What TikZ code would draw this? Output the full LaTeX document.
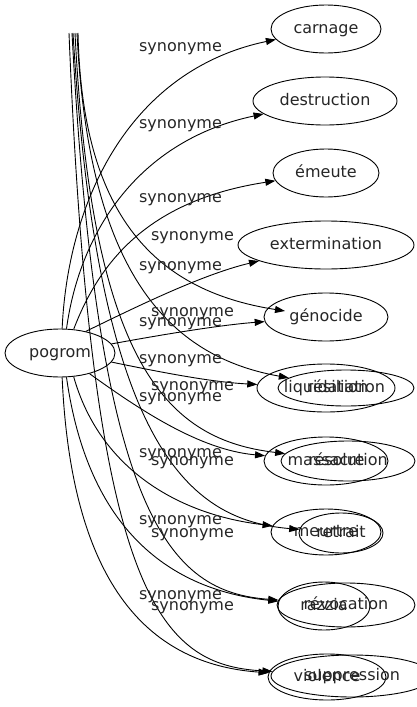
\documentclass[tikz,border=0pt]{standalone}
\usepackage{fontspec}
\setmainfont{DejaVu Sans}
\usetikzlibrary{shapes.geometric,arrows.meta}
\begin{document}
\begin{tikzpicture}[x=1pt,y=-1pt,
  txt/.style={font=\fontsize{16}{18}\selectfont, text=black!85, text height=11.5pt, text depth=3.5pt},
  nd/.style={txt, draw, ellipse, inner sep=0pt, line width=0.9pt},
  lbl/.style={txt, inner sep=0pt},
  syn/.style={draw, line width=0.9pt, -{Triangle[length=10pt,width=7pt]}}]
\useasboundingbox (0,0) rectangle (417,707);
% ---- graph 1 ----
\node[nd, minimum width=110pt, minimum height=48pt] (pogrom) at (60,353) {pogrom};
\node[nd, minimum width=110pt, minimum height=48pt] (carnage) at (326,29) {carnage};
\node[nd, minimum width=144pt, minimum height=48pt] (destruction) at (325,101) {destruction};
\node[nd, minimum width=106pt, minimum height=48pt] (emeute) at (326,173) {émeute};
\node[nd, minimum width=176pt, minimum height=48pt] (extermination) at (326,245) {extermination};
\node[nd, minimum width=124pt, minimum height=48pt] (genocide) at (326,317) {génocide};
\node[nd, minimum width=138pt, minimum height=48pt] (liquidation) at (326,388) {liquidation};
\node[nd, minimum width=124pt, minimum height=48pt] (massacre) at (326,461) {massacre};
\node[nd, minimum width=110pt, minimum height=46pt] (meurtre) at (326,532) {meurtre};
\node[nd, minimum width=92pt, minimum height=48pt] (razzia) at (324,606) {razzia};
\node[nd, minimum width=118pt, minimum height=46pt] (violence) at (327,677) {violence};
% ---- graph 2 ----
\node[nd, minimum width=136pt, minimum height=36pt] (resiliation) at (346,388) {résiliation};
\node[nd, minimum width=134pt, minimum height=40pt] (resolution) at (348,461) {résolution};
\node[nd, minimum width=84pt, minimum height=40pt] (retrait) at (341,533) {retrait};
\node[nd, minimum width=138pt, minimum height=44pt] (revocation) at (346,605) {révocation};
\node[nd, minimum width=162pt, minimum height=42pt] (suppression) at (352,676) {suppression};
\coordinate (t1) at (78,33);
\coordinate (t2) at (77,33);
\coordinate (t3) at (75,33);
\coordinate (t4) at (73,33);
\coordinate (t5) at (72,33);
\coordinate (t6) at (69,33);
\coordinate (g2gen) at (285,311);
% graph 1 edges
\path[syn] (pogrom.85) .. controls (68,200) and (130,70) .. (carnage);
\path[syn] (pogrom.75) .. controls (80,230) and (140,140) .. (destruction);
\path[syn] (pogrom.60) .. controls (100,260) and (150,200) .. (emeute);
\path[syn] (pogrom.40) .. controls (130,310) and (200,275) .. (extermination);
\path[syn] (pogrom.10) .. controls (160,335) and (220,325) .. (genocide);
\path[syn] (pogrom.-10) .. controls (160,372) and (210,382) .. (liquidation);
\path[syn] (pogrom.-35) .. controls (140,410) and (200,450) .. (massacre);
\path[syn] (pogrom.-60) .. controls (100,470) and (180,515) .. (meurtre);
\path[syn] (pogrom.-75) .. controls (88,530) and (170,590) .. (razzia);
\path[syn] (pogrom.-85) .. controls (72,600) and (160,665) .. (violence);
% graph 2 edges
\path[syn] (t1) .. controls (82,210) and (150,290) .. (g2gen);
\path[syn] (t2) .. controls (88,260) and (160,355) .. (resiliation);
\path[syn] (t3) .. controls (92,370) and (170,440) .. (resolution);
\path[syn] (t4) .. controls (98,450) and (190,520) .. (retrait);
\path[syn] (t5) .. controls (98,520) and (170,592) .. (revocation);
\path[syn] (t6) .. controls (92,600) and (160,665) .. (suppression);
% labels graph 1
\node[lbl] (l1) at (180.5,47) {synonyme};
\node[lbl] (l2) at (180.5,124) {synonyme};
\node[lbl] (l3) at (180.5,198) {synonyme};
\node[lbl] (l4) at (180.5,266) {synonyme};
\node[lbl] (l5) at (180.5,322) {synonyme};
\node[lbl] (l6) at (180.5,359) {synonyme};
\node[lbl] (l7) at (180.5,397) {synonyme};
\node[lbl] (l8) at (180.5,453) {synonyme};
\node[lbl] (l9) at (180.5,520) {synonyme};
\node[lbl] (l10) at (180.5,595) {synonyme};
% labels graph 2
\node[lbl] (m1) at (192.5,236) {synonyme};
\node[lbl] (m2) at (192.5,312) {synonyme};
\node[lbl] (m3) at (192.5,386) {synonyme};
\node[lbl] (m4) at (192.5,461) {synonyme};
\node[lbl] (m5) at (192.5,533) {synonyme};
\node[lbl] (m6) at (192.5,606) {synonyme};
\end{tikzpicture}
\end{document}
